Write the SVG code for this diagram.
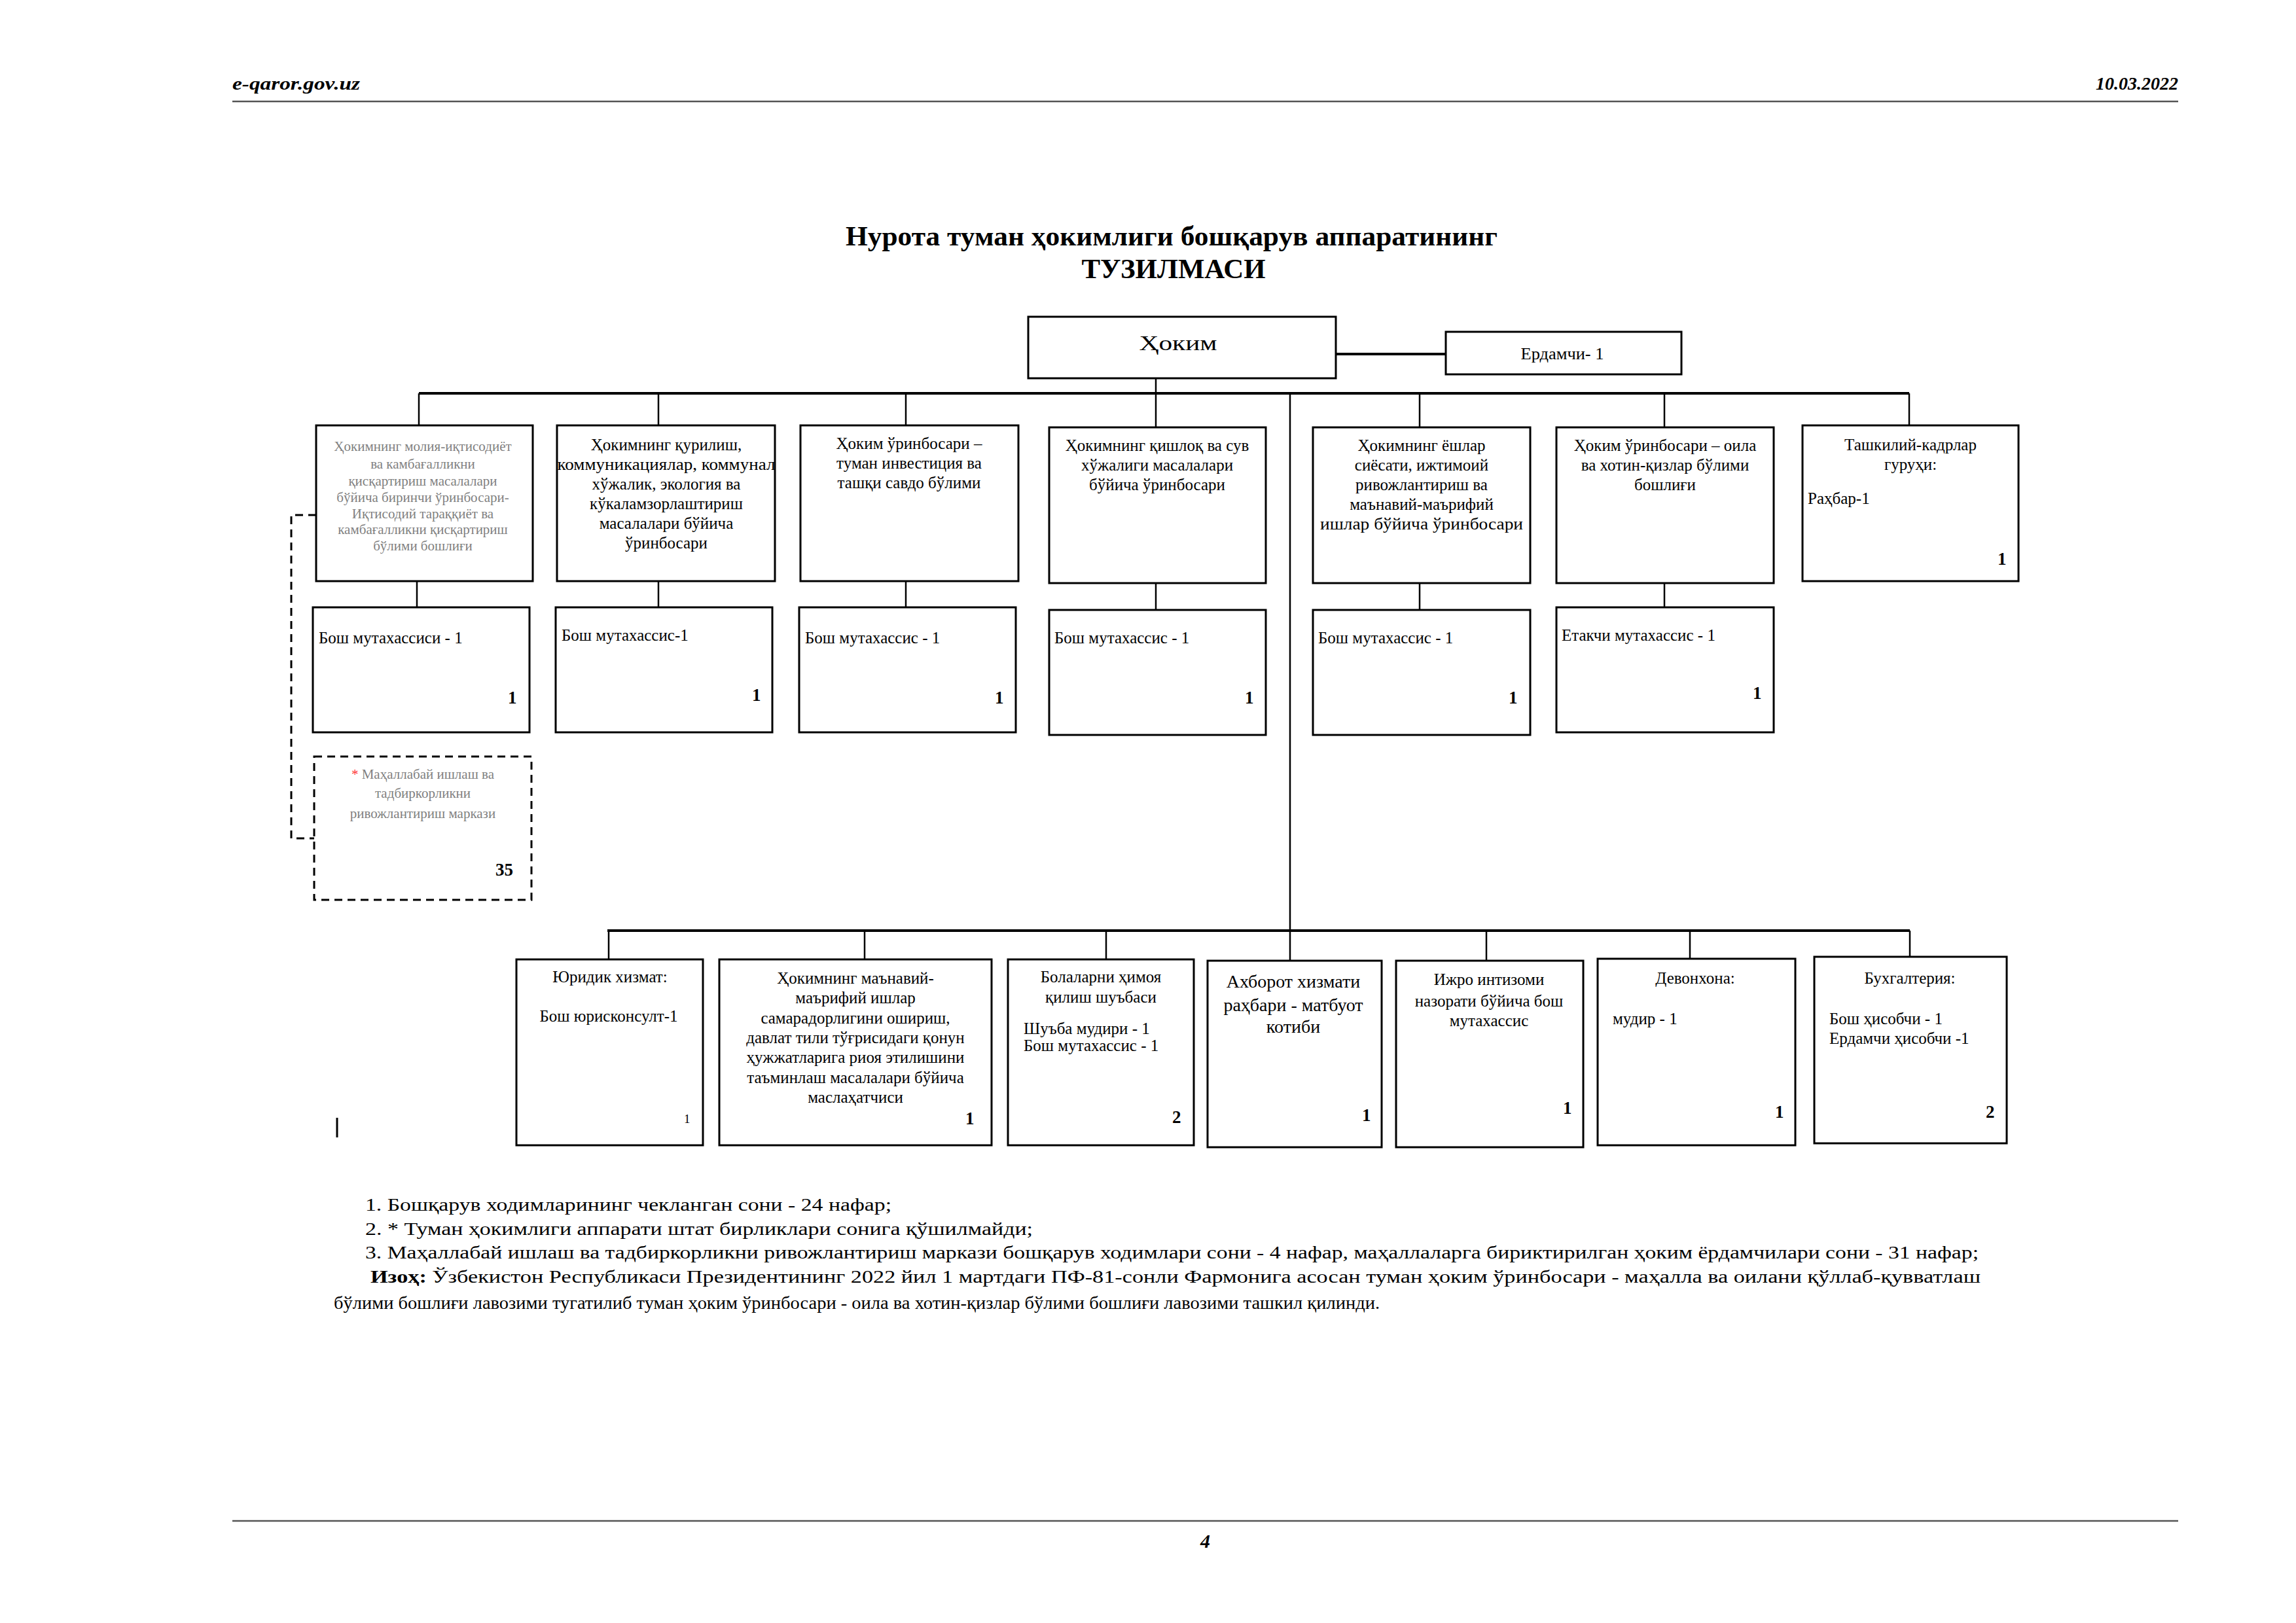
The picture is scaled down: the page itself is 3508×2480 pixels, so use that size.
<svg xmlns="http://www.w3.org/2000/svg" width="3508" height="2480" viewBox="0 0 3508 2480">
<style>
.box{fill:#fff;stroke:#000;stroke-width:3}
.dash{fill:#fff;stroke:#000;stroke-width:3;stroke-dasharray:12 8}
.ln{stroke:#000;stroke-width:2.5;fill:none}
.dl{stroke:#000;stroke-width:3;fill:none;stroke-dasharray:12 8}
.bus{stroke:#000;stroke-width:4;fill:none}
.rule{stroke:#555;stroke-width:2.5}
text{font-family:"Liberation Serif","Times New Roman",serif;fill:#000}
.t{font-size:25px}
.c{text-anchor:middle}
.e{text-anchor:end}
.g{font-size:21px;fill:#7f7f7f}
.n{font-size:27px;font-weight:bold}
.hd{font-size:28px;font-weight:bold;font-style:italic}
.ti{font-size:42px;font-weight:bold}
.nt{font-size:28px}
</style>

<g id="header">
<text class="hd" x="355" y="137" textLength="195" lengthAdjust="spacingAndGlyphs">e-qaror.gov.uz</text>
<text class="hd e" x="3328" y="137">10.03.2022</text>
<line class="rule" x1="355" y1="155" x2="3328" y2="155"/>
</g>

<g id="title">
<text class="ti c" x="1790" y="375" textLength="996" lengthAdjust="spacingAndGlyphs">Нурота туман ҳокимлиги бошқарув аппаратининг</text>
<text class="ti c" x="1793" y="425" textLength="281" lengthAdjust="spacingAndGlyphs">ТУЗИЛМАСИ</text>
</g>

<g id="connectors">
<line class="ln" x1="1766" y1="578" x2="1766" y2="601"/>
<line class="bus" x1="2041" y1="541" x2="2209" y2="541"/>
<line class="bus" x1="640" y1="601" x2="2917" y2="601"/>
<line class="ln" x1="640" y1="601" x2="640" y2="650"/>
<line class="ln" x1="1006" y1="601" x2="1006" y2="650"/>
<line class="ln" x1="1384" y1="601" x2="1384" y2="650"/>
<line class="ln" x1="1766" y1="601" x2="1766" y2="653"/>
<line class="ln" x1="2169" y1="601" x2="2169" y2="653"/>
<line class="ln" x1="2543" y1="601" x2="2543" y2="653"/>
<line class="ln" x1="2917" y1="601" x2="2917" y2="650"/>
<line class="ln" x1="637" y1="888" x2="637" y2="928"/>
<line class="ln" x1="1006" y1="888" x2="1006" y2="928"/>
<line class="ln" x1="1384" y1="888" x2="1384" y2="928"/>
<line class="ln" x1="1766" y1="891" x2="1766" y2="932"/>
<line class="ln" x1="2169" y1="891" x2="2169" y2="932"/>
<line class="ln" x1="2543" y1="891" x2="2543" y2="928"/>
<line class="ln" x1="1971" y1="601" x2="1971" y2="1468"/>
<line class="bus" x1="928" y1="1422" x2="2918" y2="1422"/>
<line class="ln" x1="930" y1="1422" x2="930" y2="1466"/>
<line class="ln" x1="1321" y1="1422" x2="1321" y2="1466"/>
<line class="ln" x1="1690" y1="1422" x2="1690" y2="1466"/>
<line class="ln" x1="2271" y1="1422" x2="2271" y2="1468"/>
<line class="ln" x1="2582" y1="1422" x2="2582" y2="1465"/>
<line class="ln" x1="2918" y1="1422" x2="2918" y2="1462"/>
<path class="dl" d="M483,787 H445 V1281 H480"/>
</g>

<g id="hokim">
<rect class="box" x="1571" y="484" width="470" height="94"/>
<text class="c" x="1800" y="535" font-size="32" textLength="119" lengthAdjust="spacingAndGlyphs">Ҳоким</text>
</g>
<g id="yordamchi">
<rect class="box" x="2209" y="507" width="360" height="65"/>
<text class="t c" x="2387" y="549" textLength="127" lengthAdjust="spacingAndGlyphs">Ердамчи- 1</text>
</g>

<g id="n1">
<rect class="box" x="483" y="650" width="331" height="238"/>
<text class="g c" x="646" y="689">Ҳокимнинг молия-иқтисодиёт</text>
<text class="g c" x="646" y="716">ва камбағалликни</text>
<text class="g c" x="646" y="742">қисқартириш масалалари</text>
<text class="g c" x="646" y="767">бўйича биринчи ўринбосари-</text>
<text class="g c" x="646" y="792">Иқтисодий тараққиёт ва</text>
<text class="g c" x="646" y="816">камбағалликни қисқартириш</text>
<text class="g c" x="646" y="841">бўлими бошлиғи</text>
</g>
<g id="n2">
<rect class="box" x="851" y="650" width="333" height="238"/>
<text class="t c" x="1018" y="688">Ҳокимнинг қурилиш,</text>
<text class="t c" x="1018" y="718" textLength="333" lengthAdjust="spacingAndGlyphs">коммуникациялар, коммунал</text>
<text class="t c" x="1018" y="748">хўжалик, экология ва</text>
<text class="t c" x="1018" y="778">кўкаламзорлаштириш</text>
<text class="t c" x="1018" y="808">масалалари бўйича</text>
<text class="t c" x="1018" y="838">ўринбосари</text>
</g>
<g id="n3">
<rect class="box" x="1223" y="650" width="333" height="238"/>
<text class="t c" x="1389" y="686">Ҳоким ўринбосари –</text>
<text class="t c" x="1389" y="716">туман инвестиция ва</text>
<text class="t c" x="1389" y="746">ташқи савдо бўлими</text>
</g>
<g id="n4">
<rect class="box" x="1603" y="653" width="331" height="238"/>
<text class="t c" x="1768" y="689">Ҳокимнинг қишлоқ ва сув</text>
<text class="t c" x="1768" y="719">хўжалиги масалалари</text>
<text class="t c" x="1768" y="749">бўйича ўринбосари</text>
</g>
<g id="n5">
<rect class="box" x="2006" y="653" width="332" height="238"/>
<text class="t c" x="2172" y="689">Ҳокимнинг ёшлар</text>
<text class="t c" x="2172" y="719">сиёсати, ижтимоий</text>
<text class="t c" x="2172" y="749">ривожлантириш ва</text>
<text class="t c" x="2172" y="779">маънавий-маърифий</text>
<text class="t c" x="2172" y="809" textLength="310" lengthAdjust="spacingAndGlyphs">ишлар бўйича ўринбосари</text>
</g>
<g id="n6">
<rect class="box" x="2378" y="653" width="332" height="238"/>
<text class="t c" x="2544" y="689">Ҳоким ўринбосари – оила</text>
<text class="t c" x="2544" y="719">ва хотин-қизлар бўлими</text>
<text class="t c" x="2544" y="749">бошлиғи</text>
</g>
<g id="n7">
<rect class="box" x="2754" y="650" width="330" height="238"/>
<text class="t c" x="2919" y="688">Ташкилий-кадрлар</text>
<text class="t c" x="2919" y="718">гуруҳи:</text>
<text class="t" x="2762" y="770">Раҳбар-1</text>
<text class="n" x="3052" y="863">1</text>
</g>

<g id="n1s">
<rect class="box" x="478" y="928" width="331" height="191"/>
<text class="t" x="487" y="983">Бош мутахассиси - 1</text>
<text class="n" x="776" y="1075">1</text>
</g>
<g id="n2s">
<rect class="box" x="849" y="928" width="331" height="191"/>
<text class="t" x="858" y="979">Бош мутахассис-1</text>
<text class="n" x="1149" y="1071">1</text>
</g>
<g id="n3s">
<rect class="box" x="1221" y="928" width="331" height="191"/>
<text class="t" x="1230" y="983">Бош мутахассис - 1</text>
<text class="n" x="1520" y="1075">1</text>
</g>
<g id="n4s">
<rect class="box" x="1603" y="932" width="331" height="191"/>
<text class="t" x="1611" y="983">Бош мутахассис - 1</text>
<text class="n" x="1902" y="1075">1</text>
</g>
<g id="n5s">
<rect class="box" x="2006" y="932" width="332" height="191"/>
<text class="t" x="2014" y="983">Бош мутахассис - 1</text>
<text class="n" x="2305" y="1075">1</text>
</g>
<g id="n6s">
<rect class="box" x="2378" y="928" width="332" height="191"/>
<text class="t" x="2386" y="979">Етакчи мутахассис - 1</text>
<text class="n" x="2678" y="1068">1</text>
</g>

<g id="mahalla">
<rect class="dash" x="480" y="1156" width="332" height="219"/>
<text class="g c" x="646" y="1190"><tspan fill="#ff3333">*</tspan> Маҳаллабай ишлаш ва</text>
<text class="g c" x="646" y="1219">тадбиркорликни</text>
<text class="g c" x="646" y="1250">ривожлантириш маркази</text>
<text class="n" x="757" y="1338" font-size="25">35</text>
</g>

<g id="nA">
<rect class="box" x="789" y="1466" width="285" height="284"/>
<text class="t c" x="932" y="1501">Юридик хизмат:</text>
<text class="t c" x="930" y="1561">Бош юрисконсулт-1</text>
<text x="1045" y="1716" font-size="19">1</text>
</g>
<g id="nB">
<rect class="box" x="1099" y="1466" width="416" height="284"/>
<text class="t c" x="1307" y="1503">Ҳокимнинг маънавий-</text>
<text class="t c" x="1307" y="1533">маърифий ишлар</text>
<text class="t c" x="1307" y="1564">самарадорлигини ошириш,</text>
<text class="t c" x="1307" y="1594">давлат тили тўғрисидаги қонун</text>
<text class="t c" x="1307" y="1624">ҳужжатларига риоя этилишини</text>
<text class="t c" x="1307" y="1655">таъминлаш масалалари бўйича</text>
<text class="t c" x="1307" y="1685">маслаҳатчиси</text>
<text class="n" x="1475" y="1718">1</text>
</g>
<g id="nC">
<rect class="box" x="1540" y="1466" width="284" height="284"/>
<text class="t c" x="1682" y="1501">Болаларни ҳимоя</text>
<text class="t c" x="1682" y="1532">қилиш шуъбаси</text>
<text class="t" x="1564" y="1580">Шуъба мудири - 1</text>
<text class="t" x="1564" y="1606">Бош мутахассис - 1</text>
<text class="n" x="1791" y="1716">2</text>
</g>
<g id="nD">
<rect class="box" x="1845" y="1468" width="266" height="285"/>
<text class="c" x="1976" y="1509" font-size="28">Ахборот хизмати</text>
<text class="c" x="1976" y="1545" font-size="28">раҳбари - матбуот</text>
<text class="c" x="1976" y="1578" font-size="28">котиби</text>
<text class="n" x="2081" y="1713">1</text>
</g>
<g id="nE">
<rect class="box" x="2133" y="1468" width="286" height="285"/>
<text class="t c" x="2275" y="1505">Ижро интизоми</text>
<text class="t c" x="2275" y="1538">назорати бўйича бош</text>
<text class="t c" x="2275" y="1568">мутахассис</text>
<text class="n" x="2388" y="1702">1</text>
</g>
<g id="nF">
<rect class="box" x="2441" y="1465" width="302" height="285"/>
<text class="t c" x="2590" y="1503">Девонхона:</text>
<text class="t" x="2464" y="1565">мудир - 1</text>
<text class="n" x="2712" y="1708">1</text>
</g>
<g id="nG">
<rect class="box" x="2772" y="1462" width="294" height="285"/>
<text class="t c" x="2918" y="1503">Бухгалтерия:</text>
<text class="t" x="2795" y="1565">Бош ҳисобчи - 1</text>
<text class="t" x="2795" y="1595">Ердамчи ҳисобчи -1</text>
<text class="n" x="3034" y="1708">2</text>
</g>

<line x1="515" y1="1708" x2="515" y2="1738" stroke="#000" stroke-width="3"/>

<g id="notes">
<text class="nt" x="558" y="1850" textLength="804" lengthAdjust="spacingAndGlyphs">1. Бошқарув ходимларининг чекланган сони - 24 нафар;</text>
<text class="nt" x="558" y="1887" textLength="1020" lengthAdjust="spacingAndGlyphs">2. * Туман ҳокимлиги аппарати штат бирликлари сонига қўшилмайди;</text>
<text class="nt" x="558" y="1923" textLength="2465" lengthAdjust="spacingAndGlyphs">3. Маҳаллабай ишлаш ва тадбиркорликни ривожлантириш маркази бошқарув ходимлари сони - 4 нафар, маҳаллаларга бириктирилган ҳоким ёрдамчилари сони - 31 нафар;</text>
<text class="nt" x="566" y="1960" textLength="2460" lengthAdjust="spacingAndGlyphs"><tspan font-weight="bold">Изоҳ:</tspan> Ўзбекистон Республикаси Президентининг 2022 йил 1 мартдаги ПФ-81-сонли Фармонига асосан туман ҳоким ўринбосари - маҳалла ва оилани қўллаб-қувватлаш</text>
<text class="nt" x="510" y="2000" textLength="1598" lengthAdjust="spacingAndGlyphs">бўлими бошлиғи лавозими тугатилиб туман ҳоким ўринбосари - оила ва хотин-қизлар бўлими бошлиғи лавозими ташкил қилинди.</text>
</g>

<g id="footer">
<line class="rule" x1="355" y1="2324" x2="3328" y2="2324"/>
<text x="1834" y="2365" font-size="30" font-weight="bold" font-style="italic">4</text>
</g>
</svg>
